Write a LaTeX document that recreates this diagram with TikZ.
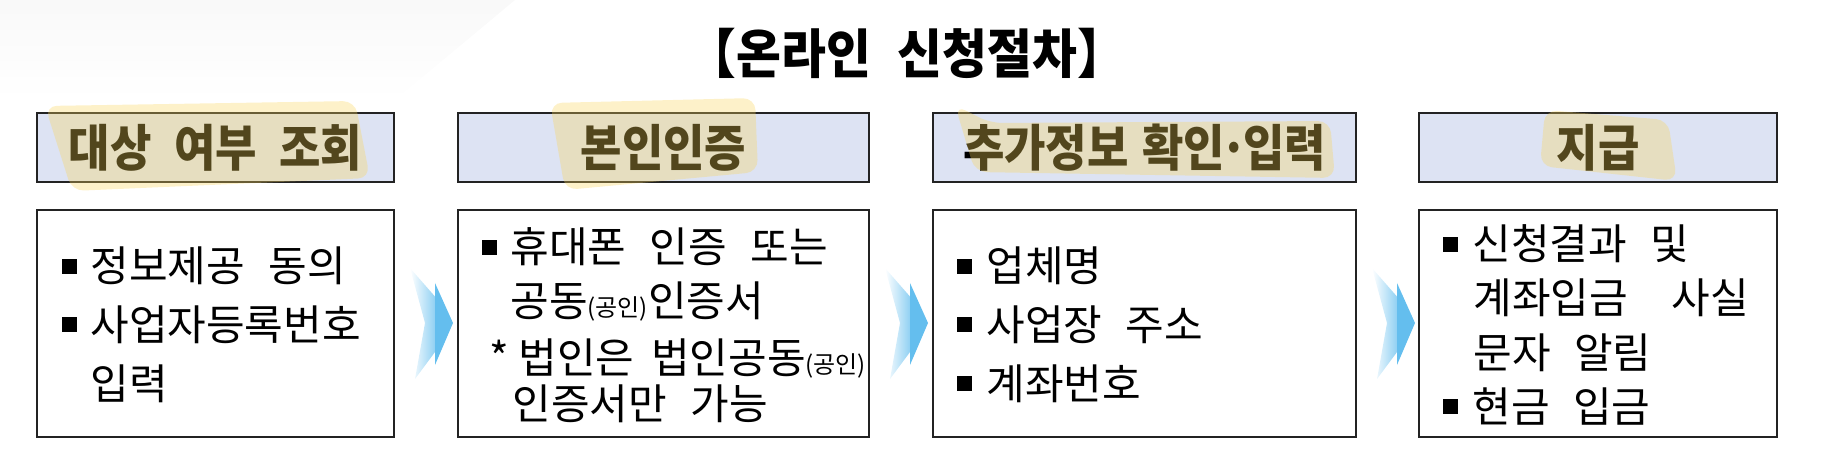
\documentclass[tikz,border=0pt]{standalone}
\usepackage{fontspec}
\setmainfont{Noto Sans CJK KR}[WordSpace=2.5]
\definecolor{headfill}{RGB}{221,227,243}
\definecolor{boxline}{RGB}{35,35,35}
\definecolor{hlcol}{RGB}{250,214,90}
\definecolor{arrowblue}{RGB}{100,190,238}
\newcommand\mybul{\rule[4pt]{7.5pt}{7.5pt}}
\newcommand\smallp[1]{{\fontsize{12pt}{15pt}\selectfont(#1)}}
\begin{document}
\begin{tikzpicture}[x=0.5pt,y=-0.5pt,
  headbox/.style={draw=boxline, line width=1.1pt, fill=headfill, minimum height=34.5pt, inner sep=0pt},
  headtxt/.style={inner sep=0pt, xscale=0.9, font=\fontsize{25pt}{28pt}\selectfont\bfseries},
  contbox/.style={draw=boxline, line width=0.8pt, fill=white, minimum height=113.5pt, inner sep=0pt},
  txt/.style={anchor=base west, inner sep=0pt, font=\fontsize{21pt}{25pt}\selectfont},
  hl/.style={fill=hlcol, opacity=0.33, rounded corners=6pt},
  chevback/.style={left color=white, right color=arrowblue!80},
  chevfront/.style={fill=arrowblue}
]
\useasboundingbox (0,0) rectangle (1836,454);
% faint background at top left
\shade[top color=black!2.5, bottom color=white] (0,0) -- (515,0) -- (395,100) -- (0,100) -- cycle;

% title
\node[anchor=base, inner sep=0pt, xscale=0.92, font=\fontsize{26.5pt}{30pt}\selectfont\bfseries] (title) at (907,74) {【온라인\hspace{0.55em}신청절차】};

% header boxes
\node[headbox, minimum width=178.5pt] (h1) at (215.5,147.5) {};
\node[headbox, minimum width=205.5pt] (h2) at (663.5,147.5) {};
\node[headbox, minimum width=211.5pt] (h3) at (1144.5,147.5) {};
\node[headbox, minimum width=179pt] (h4) at (1598,147.5) {};
\node[headtxt] (ht1) at (h1.center) {대상\hspace{0.5em}여부\hspace{0.5em}조회};
\node[headtxt] (ht2) at (h2.center) {본인인증};
\node[headtxt] (ht3) at (h3.center) {추가정보\hspace{0.3em}확인\makebox[0.4em]{·}입력};
\node[headtxt] (ht4) at (h4.center) {지급};

% content boxes
\node[contbox, minimum width=178.5pt] (c1) at (215.5,323.5) {};
\node[contbox, minimum width=205.5pt] (c2) at (663.5,323.5) {};
\node[contbox, minimum width=211.5pt] (c3) at (1144.5,323.5) {};
\node[contbox, minimum width=179pt] (c4) at (1598,323.5) {};

% box 1 text
\node[txt] (t11) at (62,282) {\mybul\hspace{6.5pt}정보제공 동의};
\node[txt] (t12) at (62,340) {\mybul\hspace{6.5pt}사업자등록번호};
\node[txt] (t13) at (90,399) {입력};

% box 2 text
\node[txt] (t21) at (482,263) {\mybul\hspace{6.5pt}휴대폰 인증 또는};
\node[txt] (t22) at (510,316) {공동\smallp{공인}인증서};
\node[txt] (t23) at (489,373) {\makebox[14.5pt][l]{*}법인은\hspace{0.4em}법인공동\smallp{공인}};
\node[txt] (t24) at (512,419) {인증서만 가능};

% box 3 text
\node[txt] (t31) at (957,282) {\mybul\hspace{7pt}업체명};
\node[txt] (t32) at (957,340) {\mybul\hspace{7pt}사업장 주소};
\node[txt] (t33) at (957,399) {\mybul\hspace{7pt}계좌번호};

% box 4 text
\node[txt] (t41) at (1443,260) {\mybul\hspace{7pt}신청결과 및};
\node[txt] (t42) at (1473,314) {계좌입금\hspace{22pt}사실};
\node[txt] (t43) at (1473,368) {문자 알림};
\node[txt] (t44) at (1443,422) {\mybul\hspace{7pt}현금 입금};

% chevron arrows
\foreach \t in {453,928,1415} {
  \shade[chevback] (\t-43,268) -- (\t-15,300) -- (\t-15,348) -- (\t-38,379) -- (\t-28,323) -- cycle;
  \fill[chevfront] (\t-18,283) -- (\t,323) -- (\t-18,365) -- cycle;
}

% highlighter strokes
\fill[hl] (45,106) -- (355,101) -- (370,178) -- (72,191) -- cycle;
\fill[hl] (550,103) -- (755,98) -- (758,172) -- (565,190) -- cycle;
\fill[hl] (955,105) -- (990,123) -- (1330,121) -- (1335,178) -- (975,172) -- cycle;
\fill[hl] (1545,110) -- (1668,120) -- (1677,181) -- (1540,166) -- cycle;
\end{tikzpicture}
\end{document}
